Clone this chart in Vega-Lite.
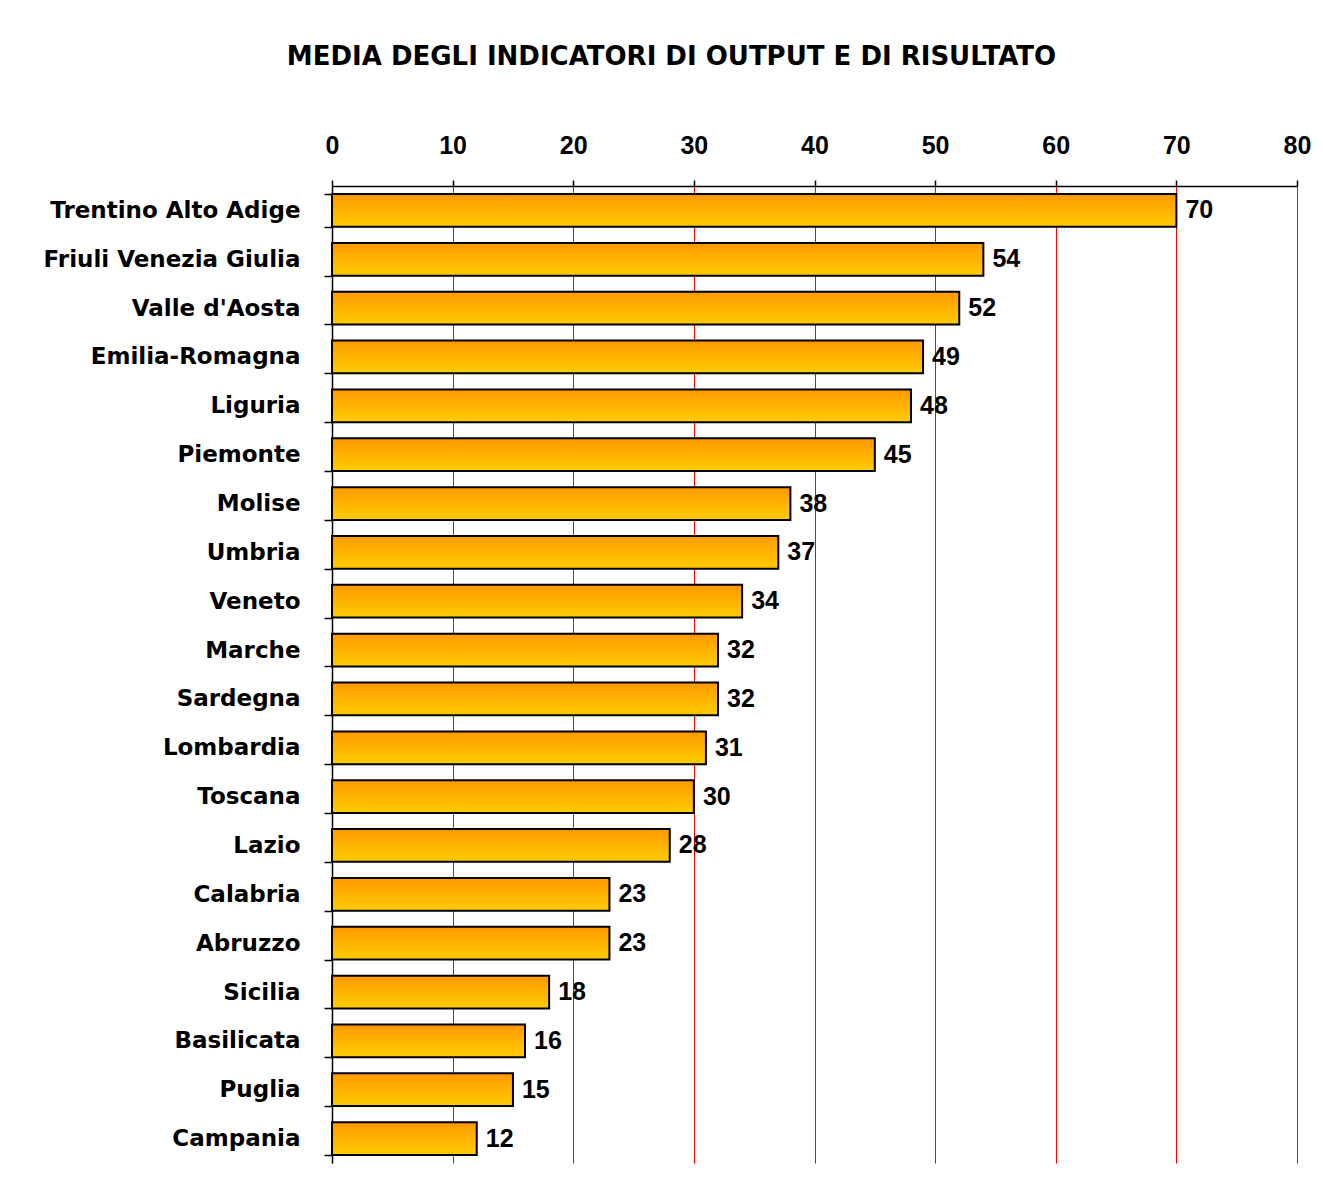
{
  "$schema": "https://vega.github.io/schema/vega-lite/v6.json",
  "width": 965,
  "height": 977,
  "autosize": {"type": "none"},
  "padding": {"left": 332, "top": 186, "right": 26, "bottom": 15},
  "background": "white",
  "title": {
    "text": "MEDIA DEGLI INDICATORI DI OUTPUT E DI RISULTATO",
    "font": "DejaVu Sans",
    "fontSize": 26,
    "fontWeight": "bold",
    "color": "black",
    "anchor": "middle",
    "dx": -143,
    "offset": 63
  },
  "data": {
    "values": [
      {"regione": "Trentino Alto Adige", "valore": 70},
      {"regione": "Friuli Venezia Giulia", "valore": 54},
      {"regione": "Valle d'Aosta", "valore": 52},
      {"regione": "Emilia-Romagna", "valore": 49},
      {"regione": "Liguria", "valore": 48},
      {"regione": "Piemonte", "valore": 45},
      {"regione": "Molise", "valore": 38},
      {"regione": "Umbria", "valore": 37},
      {"regione": "Veneto", "valore": 34},
      {"regione": "Marche", "valore": 32},
      {"regione": "Sardegna", "valore": 32},
      {"regione": "Lombardia", "valore": 31},
      {"regione": "Toscana", "valore": 30},
      {"regione": "Lazio", "valore": 28},
      {"regione": "Calabria", "valore": 23},
      {"regione": "Abruzzo", "valore": 23},
      {"regione": "Sicilia", "valore": 18},
      {"regione": "Basilicata", "valore": 16},
      {"regione": "Puglia", "valore": 15},
      {"regione": "Campania", "valore": 12}
    ]
  },
  "encoding": {
    "y": {
      "field": "regione",
      "type": "nominal",
      "sort": null,
      "scale": {"paddingInner": 0.33, "paddingOuter": 0.165},
      "axis": {
        "title": null,
        "orient": "left",
        "domainColor": "black",
        "domainWidth": 1.5,
        "tickColor": "black",
        "tickWidth": 1.5,
        "tickSize": 8,
        "tickBand": "extent",
        "labelFont": "DejaVu Sans",
        "labelFontSize": 23,
        "labelFontWeight": "bold",
        "labelColor": "black",
        "labelPadding": 24,
        "labelLimit": 400
      }
    },
    "x": {
      "field": "valore",
      "type": "quantitative",
      "scale": {"domain": [0, 80], "nice": false},
      "axis": {
        "title": null,
        "orient": "top",
        "values": [0, 10, 20, 30, 40, 50, 60, 70, 80],
        "grid": true,
        "gridColor": "#ff0000",
        "gridWidth": 1,
        "gridOpacity": 1,
        "domainColor": "black",
        "domainWidth": 1.5,
        "tickColor": "black",
        "tickWidth": 1.5,
        "tickSize": 6,
        "labelFlush": false,
        "labelFont": "Liberation Sans",
        "labelFontSize": 25,
        "labelFontWeight": "bold",
        "labelColor": "black",
        "labelPadding": 22
      }
    }
  },
  "layer": [
    {
      "mark": {
        "type": "bar",
        "stroke": "black",
        "strokeWidth": 2,
        "color": {
          "gradient": "linear",
          "x1": 0, "y1": 0, "x2": 0, "y2": 1,
          "stops": [
            {"offset": 0, "color": "#ff9900"},
            {"offset": 1, "color": "#ffcc00"}
          ]
        }
      }
    },
    {
      "mark": {
        "type": "text",
        "align": "left",
        "baseline": "middle",
        "dx": 9,
        "font": "Liberation Sans",
        "fontSize": 25,
        "fontWeight": "bold",
        "color": "black"
      },
      "encoding": {
        "text": {"field": "valore", "type": "quantitative"}
      }
    }
  ],
  "config": {
    "view": {"stroke": null}
  }
}
